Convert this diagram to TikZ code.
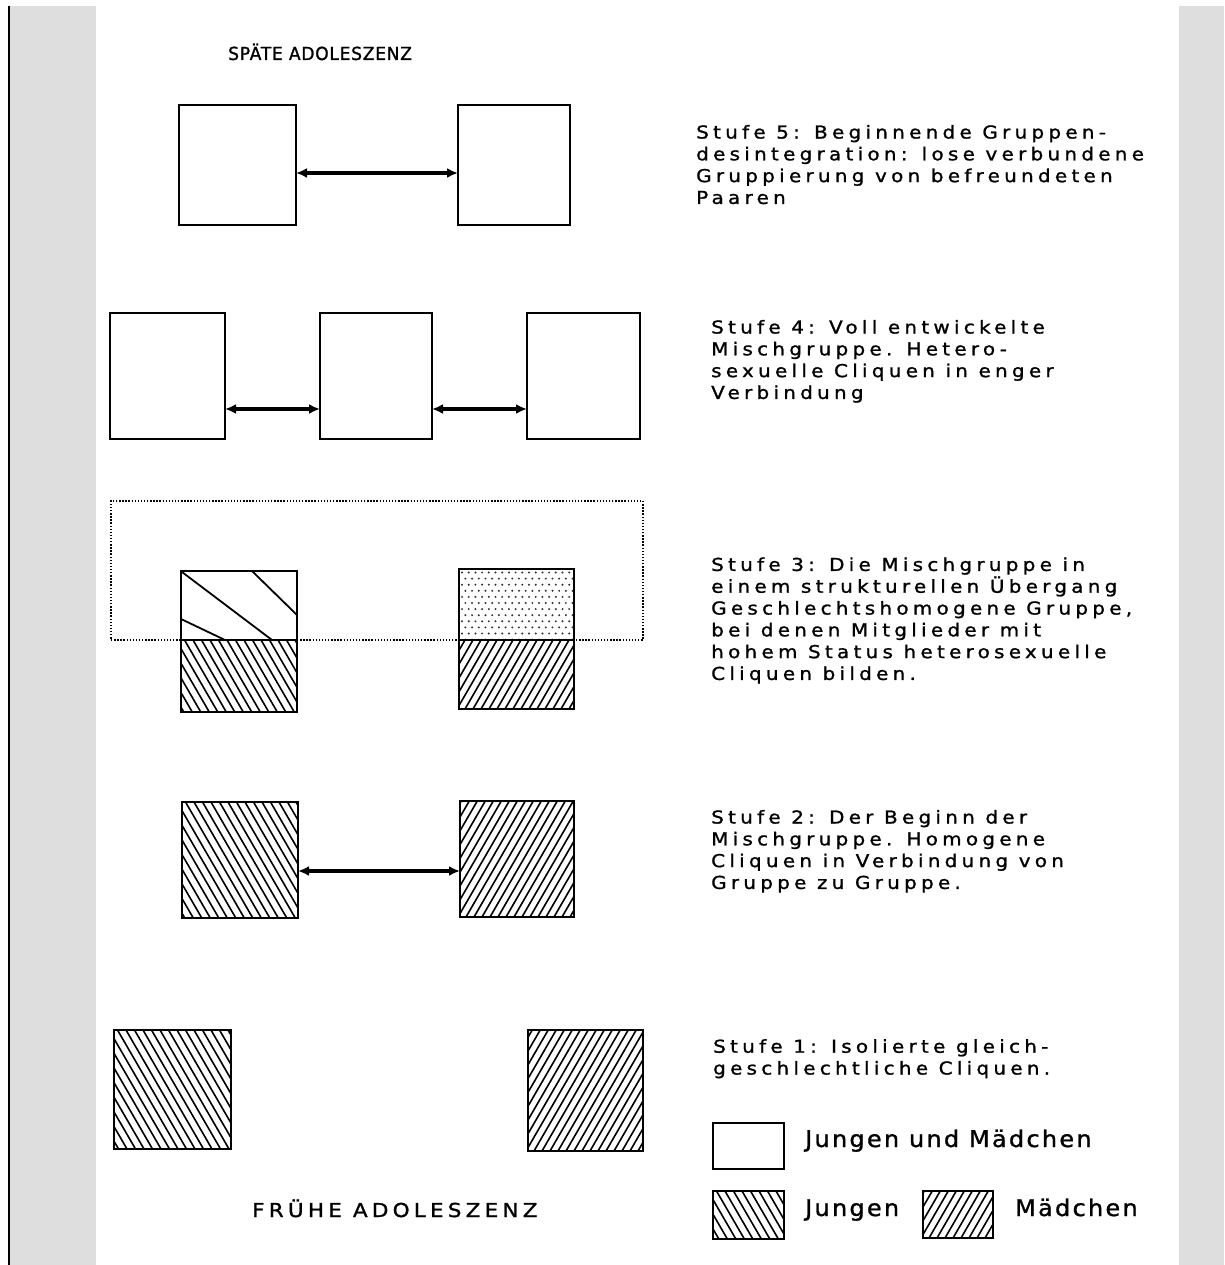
\documentclass[tikz,border=0pt]{standalone}
\usepackage{fontspec}
\usepackage{graphicx}
\usetikzlibrary{arrows.meta}
\setmainfont{DejaVu Sans}
\newfontfamily\stufefont[LetterSpace=24,FakeStretch=1.12,FakeBold=1.2]{DejaVu Sans}
\newfontfamily\fruehfont[LetterSpace=22,FakeStretch=1.12,FakeBold=1.2]{DejaVu Sans}
\newfontfamily\spaetfont[FakeStretch=0.95,FakeBold=1.3,LetterSpace=4]{DejaVu Sans}
\newfontfamily\legfont[LetterSpace=10,FakeStretch=1.04,FakeBold=1.2]{DejaVu Sans}
\definecolor{panel}{RGB}{222,222,222}
\definecolor{dotc}{RGB}{50,50,50}
\begin{document}
\begin{tikzpicture}[x=1pt,y=-1pt,
  box/.style={draw, line width=2.2pt, fill=white, inner sep=0pt, outer sep=0pt, anchor=north west},
  hatchline/.style={line width=1.6pt},
  hatchJ/.style={path picture={\foreach \t in {-90,-81.5,...,130}{\draw[hatchline] ([xshift=\t pt]path picture bounding box.north west) -- ++(116,200);}}},
  hatchM/.style={path picture={\foreach \t in {-90,-82,...,130}{\draw[hatchline] ([xshift=\t pt]path picture bounding box.south west) -- ++(116,-200);}}},
  dotfill/.style={path picture={\foreach \r in {0,...,11}{\foreach \c in {0,...,17}{\fill[dotc] ([shift={({3+\c*6.7+mod(\r,2)*3.35},{3.5+\r*6.1})}]path picture bounding box.north west) circle (1.1pt);}}}},
  conn/.style={{Latex[length=11pt,width=10pt]}-{Latex[length=11pt,width=10pt]}, line width=3.4pt},
  stufe/.style={anchor=north west, inner sep=0pt, align=left, font=\stufefont\fontsize{17.8}{21.8}\selectfont},
  legtext/.style={anchor=base west, inner sep=0pt, font=\legfont\fontsize{23}{27}\selectfont},
  dottedbox/.style={draw=black, line width=1.9pt, dash pattern=on 1.4pt off 1.7pt, inner sep=0pt, outer sep=0pt, anchor=north west}
]
\useasboundingbox (0,0) rectangle (1224,1265);
% side panels
\fill[panel] (10,6) rectangle (96,1265);
\fill[panel] (1179,6) rectangle (1224,1265);
\draw[line width=2.5pt] (9,6) -- (9,1265);

% headings
\node[anchor=base west, inner sep=0pt, font=\spaetfont\fontsize{18}{22}\selectfont] (spaet) at (228,60) {SPÄTE ADOLESZENZ};
\node[anchor=base west, inner sep=0pt, font=\fruehfont\fontsize{19.2}{23}\selectfont] (frueh) at (252,1217) {FRÜHE ADOLESZENZ};

% Stufe 5
\node[box, minimum width=117pt, minimum height=120pt] (b5l) at (179,105) {};
\node[box, minimum width=112pt, minimum height=120pt] (b5r) at (458,105) {};
\draw[conn] ([yshift=52pt]b5l.south east) -- ([yshift=52pt]b5r.south west);
\node[stufe] (t5) at (696,124.8) {Stufe 5: Beginnende Gruppen-\\desintegration: lose verbundene\\Gruppierung von befreundeten\\Paaren};

% Stufe 4
\node[box, minimum width=115pt, minimum height=126pt] (b4a) at (110,313) {};
\node[box, minimum width=112pt, minimum height=126pt] (b4b) at (320,313) {};
\node[box, minimum width=113pt, minimum height=126pt] (b4c) at (527,313) {};
\draw[conn] ([yshift=30pt]b4a.south east) -- ([yshift=30pt]b4b.south west);
\draw[conn] ([yshift=30pt]b4b.south east) -- ([yshift=30pt]b4c.south west);
\node[stufe] (t4) at (711,319.8) {Stufe 4: Voll entwickelte\\Mischgruppe. Hetero-\\sexuelle Cliquen in enger\\Verbindung};

% Stufe 3
\node[dottedbox, minimum width=532pt, minimum height=139pt] (grp3) at (111,501) {};
\node[box, minimum width=116pt, minimum height=69pt] (b3lt) at (181,571) {};
\draw[line width=1.8pt] (252,571) -- (297,615);
\draw[line width=1.8pt] (182,572) -- (272,640);
\draw[line width=1.8pt] (181,619) -- (225,640);
\node[box, hatchJ, minimum width=116pt, minimum height=72pt] (b3lb) at (181,640) {};
\node[box, dotfill, minimum width=115pt, minimum height=71pt] (b3rt) at (459,569) {};
\node[box, hatchM, minimum width=115pt, minimum height=69pt] (b3rb) at (459,640) {};
\node[stufe] (t3) at (711,557.2) {Stufe 3: Die Mischgruppe in\\einem strukturellen Übergang\\Geschlechtshomogene Gruppe,\\bei denen Mitglieder mit\\hohem Status heterosexuelle\\Cliquen bilden.};

% Stufe 2
\node[box, hatchJ, minimum width=116pt, minimum height=116pt] (b2l) at (182,802) {};
\node[box, hatchM, minimum width=114pt, minimum height=116pt] (b2r) at (460,801) {};
\draw[conn] ([yshift=47pt]b2l.south east) -- ([yshift=46pt]b2r.south west);
\node[stufe] (t2) at (711,809.8) {Stufe 2: Der Beginn der\\Mischgruppe. Homogene\\Cliquen in Verbindung von\\Gruppe zu Gruppe.};

% Stufe 1
\node[box, hatchJ, minimum width=117pt, minimum height=119pt] (b1l) at (114,1030) {};
\node[box, hatchM, minimum width=115pt, minimum height=121pt] (b1r) at (528,1030) {};
\node[stufe] (t1) at (713,1039) {Stufe 1: Isolierte gleich-\\geschlechtliche Cliquen.};

% legend
\node[box, minimum width=71pt, minimum height=46pt] (lgw) at (713,1123) {};
\node[legtext] (lgwt) at (805,1147) {Jungen und Mädchen};
\node[box, hatchJ, minimum width=71pt, minimum height=48pt] (lgj) at (713,1191) {};
\node[legtext] (lgjt) at (805,1216) {Jungen};
\node[box, hatchM, minimum width=70pt, minimum height=47pt] (lgm) at (923,1191) {};
\node[legtext] (lgmt) at (1015,1216) {Mädchen};
\end{tikzpicture}
\end{document}
